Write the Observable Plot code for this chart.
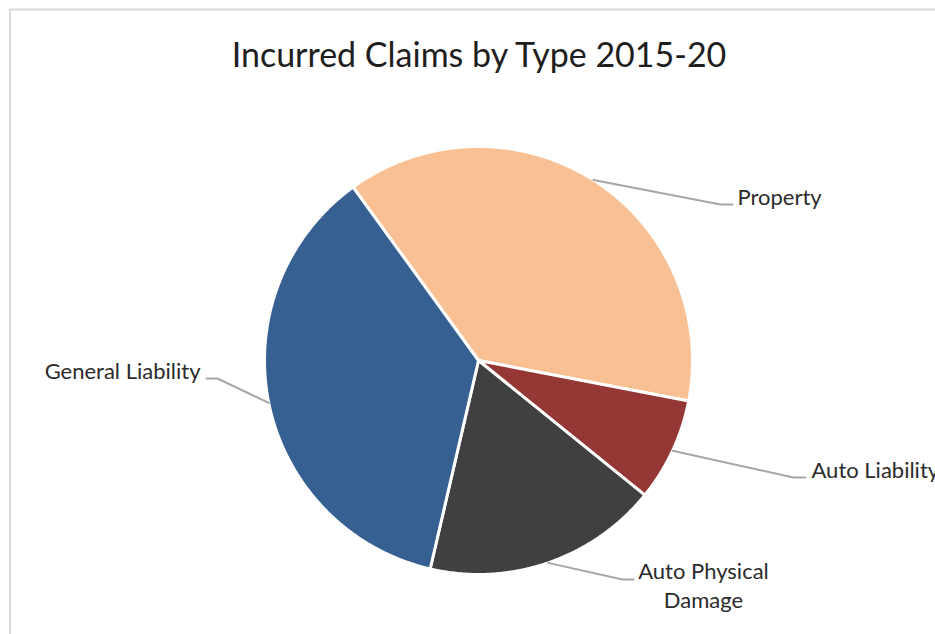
<!DOCTYPE html>
<html><head><meta charset="utf-8">
<script src="https://cdn.jsdelivr.net/npm/d3@7"></script>
<script src="https://cdn.jsdelivr.net/npm/@observablehq/plot@0.6"></script>
<style>
body{margin:0;background:#fff}
#chart svg{display:block}
</style>
</head><body><div id="chart"></div>
<script>
// ---- data ----
const categories = ["Property", "Auto Liability", "Auto Physical Damage", "General Liability"];
const shares = [38.0, 7.8, 17.8, 36.4]; // percent of incurred claims
const labelLines = [["Property"], ["Auto Liability"], ["Auto Physical", "Damage"], ["General Liability"]];
const title = "Incurred Claims by Type 2015-20";

// ---- style / layout ----
const sliceColors = ["#F9C093", "#953735", "#404040", "#376092"];
const W = 935, H = 634, CX = 478, CY = 360, R = 214;
const firstSliceDeg = -35.9;
const FONT = "Lato, 'Open Sans', sans-serif";
const X = px => (px - CX) / R;
const Y = py => (CY - py) / R;
// label layout (pixel positions of elbow, line end and text anchor)
const layout = [
  {elbow: [720, 204], end: [732, 204], text: [737, 195], anchor: "start"},
  {elbow: [793, 477], end: [805, 477], text: [811, 468], anchor: "start"},
  {elbow: [622, 579], end: [633, 579], text: [703, 584], anchor: "middle"},
  {elbow: [217, 378], end: [206, 378], text: [200, 369], anchor: "end"}
];

const a0 = firstSliceDeg * Math.PI / 180;
const arcs = d3.pie().sort(null).startAngle(a0).endAngle(a0 + 2 * Math.PI)(shares);

const slicePts = [];
arcs.forEach((a, i) => {
  const n = Math.max(2, Math.ceil((a.endAngle - a.startAngle) / (Math.PI / 360)));
  slicePts.push({cat: categories[i], color: sliceColors[i], x: 0, y: 0});
  for (let k = 0; k <= n; k++) {
    const t = a.startAngle + (a.endAngle - a.startAngle) * k / n;
    slicePts.push({cat: categories[i], color: sliceColors[i], x: Math.sin(t), y: Math.cos(t)});
  }
  slicePts.push({cat: categories[i], color: sliceColors[i], x: 0, y: 0});
});

const leaderPts = [];
const labels = [];
arcs.forEach((a, i) => {
  const m = (a.startAngle + a.endAngle) / 2;
  const L = layout[i];
  leaderPts.push({cat: categories[i], x: Math.sin(m), y: Math.cos(m)});
  leaderPts.push({cat: categories[i], x: X(L.elbow[0]), y: Y(L.elbow[1])});
  leaderPts.push({cat: categories[i], x: X(L.end[0]), y: Y(L.end[1])});
  labels.push({text: labelLines[i].join("\n"), x: X(L.text[0]), y: Y(L.text[1]), anchor: L.anchor});
});

const chart = Plot.plot({
  width: W, height: H, margin: 0,
  x: {domain: [X(0), X(W)], axis: null},
  y: {domain: [Y(H), Y(0)], axis: null},
  style: {fontFamily: FONT, background: "#fff"},
  marks: [
    Plot.frame({stroke: "#d9d9d9", strokeWidth: 2, insetLeft: 9.5, insetTop: 9, insetRight: -20, insetBottom: -20}),
    Plot.line(slicePts, {x: "x", y: "y", z: "cat", fill: "color", stroke: "#fff", strokeWidth: 3, strokeLinejoin: "round", curve: "linear"}),
    Plot.line(leaderPts, {x: "x", y: "y", z: "cat", stroke: "#a6a6a6", strokeWidth: 2}),
    ...["start", "middle", "end"].map(anc =>
      Plot.text(labels.filter(d => d.anchor === anc), {x: "x", y: "y", text: "text", textAnchor: anc, lineAnchor: "middle", lineHeight: 1.32, fontSize: 22, fill: "#2b2b2b"})),
    Plot.text([title], {x: () => X(478.5), y: () => Y(56), text: d => d, fontSize: 34, fill: "#1e1e1e", lineAnchor: "middle"})
  ]
});
document.getElementById("chart").appendChild(chart);
</script>
</body></html>
